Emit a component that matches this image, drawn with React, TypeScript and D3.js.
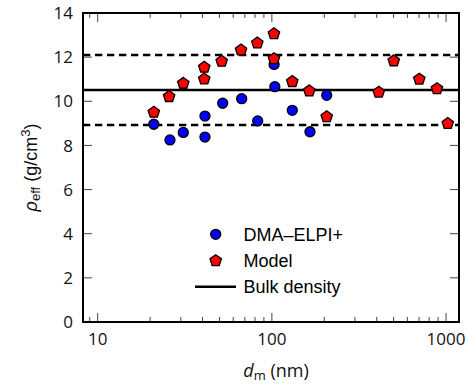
import React from "react";
import * as d3 from "d3";

const W = 469, H = 385;
const M = { left: 83, right: 459, top: 13, bottom: 322 };

const xTicks = [10, 100, 1000];
const yTicks = [0, 2, 4, 6, 8, 10, 12, 14];

const elpiD = [21, 26, 31, 41.3, 41.3, 52.2, 67.1, 82.9, 103, 104, 131, 165.5, 206.5];
const elpiRho = [8.96, 8.25, 8.59, 9.33, 8.38, 9.91, 10.12, 9.11, 11.67, 10.66, 9.59, 8.62, 10.27];

const modelD = [21, 25.7, 31, 40.9, 40.9, 51.5, 66.5, 82.5, 102.8, 102.8, 131, 164, 206.5, 410.8, 501, 702, 887, 1023];
const modelRho = [9.5, 10.21, 10.81, 11.54, 11.01, 11.81, 12.32, 12.64, 13.06, 11.93, 10.89, 10.47, 9.3, 10.41, 11.83, 11.0, 10.57, 8.99];

const bulk = 10.51;
const bulkLow = 8.93;
const bulkHigh = 12.1;

const legendLabels = ["DMA\u2013ELPI+", "Model", "Bulk density"];

function pentagon(cx: number, cy: number, r: number) {
  const pts: [number, number][] = [];
  for (let i = 0; i < 5; i++) {
    const a = -Math.PI / 2 + (i * 2 * Math.PI) / 5;
    pts.push([cx + r * Math.cos(a), cy + r * Math.sin(a)]);
  }
  return "M" + pts.map((p) => p.join(",")).join("L") + "Z";
}

export default function App() {
  const x = d3.scaleLog().domain([8.234, 1187]).range([M.left, M.right]);
  const y = d3.scaleLinear().domain([0, 14]).range([M.bottom, M.top]);

  const minor: number[] = [];
  for (const dec of [1, 10, 100, 1000]) {
    for (let k = 1; k <= 9; k++) {
      const v = dec * k;
      if (v >= 8.234 && v <= 1187 && !xTicks.includes(v)) minor.push(v);
    }
  }
  const tickFont = "'Open Sans', sans-serif";
  const labFont = "'Liberation Sans', Arial, sans-serif";

  return (
    <svg width={W} height={H} style={{ position: "absolute", left: 0, top: 0 }}>
      <rect width={W} height={H} fill="white" />
      {/* ticks */}
      {minor.map((v, i) => (
        <g key={"mn" + i} stroke="#444" strokeWidth={1}>
          <line x1={x(v)} x2={x(v)} y1={M.bottom} y2={M.bottom - 5} />
          <line x1={x(v)} x2={x(v)} y1={M.top} y2={M.top + 5} />
        </g>
      ))}
      {xTicks.map((v) => (
        <g key={"xt" + v}>
          <g stroke="#444" strokeWidth={1}>
            <line x1={x(v)} x2={x(v)} y1={M.bottom} y2={M.bottom - 9} />
            <line x1={x(v)} x2={x(v)} y1={M.top} y2={M.top + 9} />
          </g>
          <text x={x(v)} y={M.bottom + 23} textAnchor="middle" fontFamily={tickFont} fontSize={17} fill="#111">
            {v}
          </text>
        </g>
      ))}
      {yTicks.map((v) => (
        <g key={"yt" + v}>
          <g stroke="#444" strokeWidth={1}>
            <line x1={M.left} x2={M.left + 9} y1={y(v)} y2={y(v)} />
            <line x1={M.right} x2={M.right - 9} y1={y(v)} y2={y(v)} />
          </g>
          <text x={73} y={y(v)} dy="0.36em" textAnchor="end" fontFamily={tickFont} fontSize={17} fill="#111">
            {v}
          </text>
        </g>
      ))}
      {/* reference lines */}
      <line x1={M.left} x2={M.right} y1={y(bulk)} y2={y(bulk)} stroke="black" strokeWidth={2.5} />
      <line x1={M.left} x2={M.right} y1={y(bulkHigh)} y2={y(bulkHigh)} stroke="black" strokeWidth={2.5} strokeDasharray="7.3,4.7" />
      <line x1={M.left} x2={M.right} y1={y(bulkLow)} y2={y(bulkLow)} stroke="black" strokeWidth={2.5} strokeDasharray="7.3,4.7" />
      {/* points */}
      {elpiD.map((d, i) => (
        <circle key={"e" + i} cx={x(d)} cy={y(elpiRho[i])} r={5} fill="#0000ff" stroke="black" strokeWidth={1.3} />
      ))}
      {modelD.map((d, i) => (
        <path key={"m" + i} d={pentagon(x(d), y(modelRho[i]), 6)} fill="#ff0000" stroke="black" strokeWidth={1.3} />
      ))}
      {/* frame */}
      <rect x={M.left} y={M.top} width={M.right - M.left} height={M.bottom - M.top} fill="none" stroke="black" strokeWidth={2} />
      {/* legend */}
      <circle cx={215.7} cy={234.3} r={5} fill="#0000ff" stroke="black" strokeWidth={1.3} />
      <path d={pentagon(215.7, 260.7, 6)} fill="#ff0000" stroke="black" strokeWidth={1.3} />
      <line x1={195} x2={236} y1={286.7} y2={286.7} stroke="black" strokeWidth={2.5} />
      {legendLabels.map((t, i) => (
        <text key={t} x={243.5} y={234.3 + i * 26.2} dy="0.36em" fontFamily={labFont} fontSize={18} fill="black">
          {t}
        </text>
      ))}
      {/* axis labels */}
      <text x={276} y={377} textAnchor="middle" fontFamily={tickFont} fontSize={18} fill="#111">
        <tspan fontStyle="italic">d</tspan>
        <tspan fontSize={13} dy={3}>m</tspan>
        <tspan dy={-3}> (nm)</tspan>
      </text>
      <text transform={`translate(37,${(M.top + M.bottom) / 2}) rotate(-90)`} textAnchor="middle" fontFamily={labFont} fontSize={18} fill="#111">
        <tspan fontStyle="italic">ρ</tspan>
        <tspan fontSize={13} dy={3}>eff</tspan>
        <tspan dy={-3}> (g/cm</tspan>
        <tspan fontSize={13} dy={-7}>3</tspan>
        <tspan dy={7}>)</tspan>
      </text>
    </svg>
  );
}
